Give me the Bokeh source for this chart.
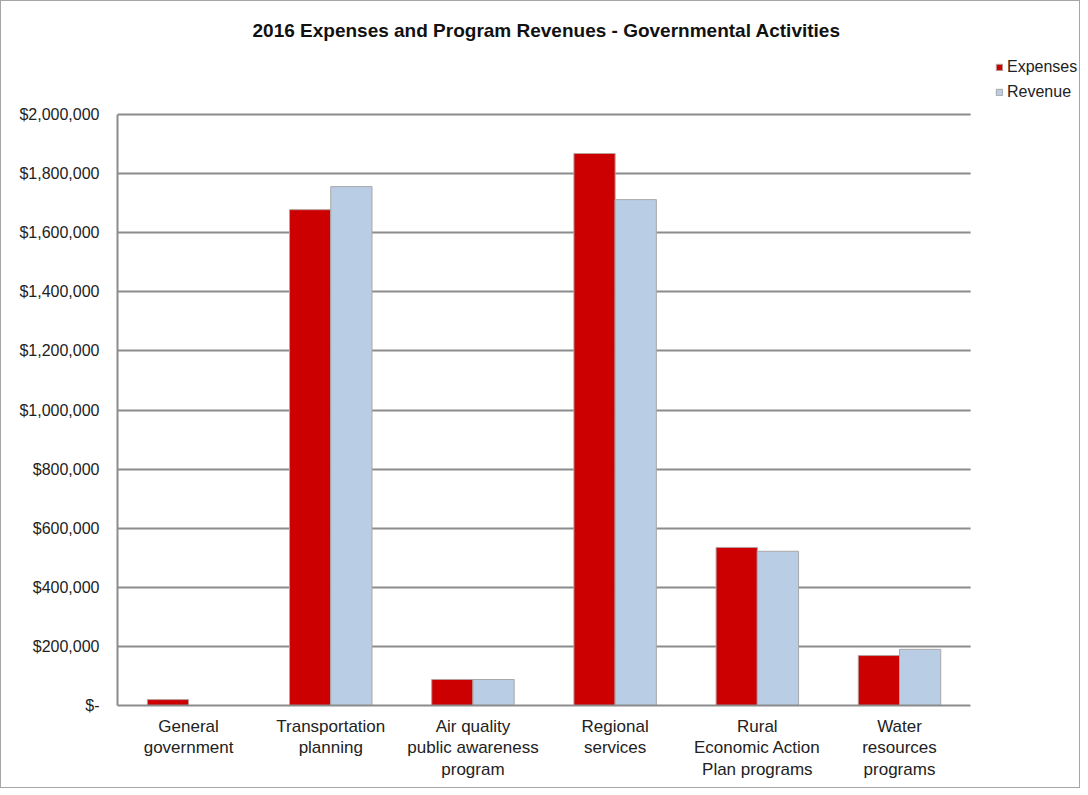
from bokeh.plotting import figure
from bokeh.models import (CustomJSTickFormatter, Legend, LegendItem, FixedTicker,
                          Range1d, BoxAnnotation, ColumnDataSource)
from bokeh.transform import dodge
from bokeh.embed import file_html
from bokeh.resources import INLINE

categories = ["General\ngovernment", "Transportation\nplanning",
              "Air quality\npublic awareness\nprogram", "Regional\nservices",
              "Rural\nEconomic Action\nPlan programs", "Water\nresources\nprograms"]
expenses = [20000, 1678000, 88000, 1868000, 535000, 169000]
revenue = [0, 1756000, 88000, 1712000, 522000, 190000]
y_ticks = [0, 200000, 400000, 600000, 800000, 1000000, 1200000, 1400000,
           1600000, 1800000, 2000000]

n = len(categories)
xc = [i + 0.5 for i in range(n)]
src = ColumnDataSource(dict(x=xc, exp=expenses, rev=revenue))

FONT = "Liberation Sans"
GRID = "#8C8C8C"

p = figure(x_range=Range1d(0, 6.78), y_range=Range1d(0, 2220000),
           width=1080, height=788, output_backend="svg", toolbar_location=None,
           min_border_left=116, min_border_right=0, min_border_top=48,
           min_border_bottom=84)
p.styles = {"border": "1px solid #A6A6A6"}

p.title.text = "2016 Expenses and Program Revenues - Governmental Activities"
p.title.text_font = FONT
p.title.text_font_size = "19px"
p.title.text_font_style = "bold"
p.title.align = "left"
p.title.offset = 135
p.title.text_color = "#111111"
p.title.standoff = 17

r1 = p.vbar(x=dodge("x", -0.145), top="exp", width=0.29, source=src,
            fill_color="#CC0000", line_color="#B8A0A0", line_width=1)
r2 = p.vbar(x=dodge("x", 0.145), top="rev", width=0.29, source=src,
            fill_color="#B9CDE5", line_color="#A8A8A8", line_width=1)

p.outline_line_color = None
p.xgrid.grid_line_color = None
p.ygrid.grid_line_color = GRID
p.ygrid.grid_line_width = 2
p.ygrid.ticker = FixedTicker(ticks=y_ticks)
p.yaxis.ticker = FixedTicker(ticks=y_ticks)
p.yaxis.bounds = (0, 2000000)
p.yaxis.formatter = CustomJSTickFormatter(code="""
if (tick == 0) { return '$-'; }
return '$' + Math.round(tick).toString().replace(/\\B(?=(\\d{3})+(?!\\d))/g, ',');
""")
p.xaxis.ticker = FixedTicker(ticks=xc)
p.xaxis.major_label_overrides = {x: c for x, c in zip(xc, categories)}
p.xaxis.bounds = (0, n)
for ax in (p.xaxis, p.yaxis):
    ax.axis_line_color = GRID
    ax.axis_line_width = 2
    ax.major_tick_line_color = None
    ax.minor_tick_line_color = None
    ax.major_label_text_font = FONT
    ax.major_label_text_color = "#222222"
p.yaxis.major_label_text_font_size = "16px"
p.xaxis.major_label_text_font_size = "17px"
p.xaxis.major_label_text_line_height = 1.15
p.yaxis.major_label_standoff = 12
p.xaxis.major_label_standoff = 5

# white panel hiding the plot area to the right of the categories
p.add_layout(BoxAnnotation(left=n, fill_color="white", fill_alpha=1.0,
                           line_color=None))

legend = Legend(items=[LegendItem(label="Expenses", renderers=[r1]),
                       LegendItem(label="Revenue", renderers=[r2])],
                location=(878, 604), background_fill_alpha=0, border_line_color=None,
                label_text_font=FONT, label_text_font_size="16px",
                glyph_width=8, glyph_height=8, spacing=7, label_standoff=4,
                padding=5, margin=0, label_text_color="#222222")
p.add_layout(legend, "center")

open("out.html", "w").write(file_html(p, INLINE))
